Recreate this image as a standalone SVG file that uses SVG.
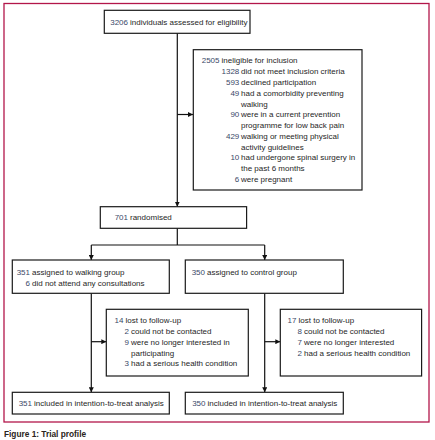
<svg xmlns="http://www.w3.org/2000/svg" width="435" height="440" viewBox="0 0 435 440">
<style>
  .box { fill: #ffffff; stroke: #1a1a1a; stroke-width: 1.2; }
  .frame { fill: none; stroke: #b3164a; stroke-width: 1.3; }
  .conn { fill: none; stroke: #111111; stroke-width: 1.2; }
  text { font-family: "Liberation Sans", Arial, sans-serif; font-size: 8px; fill: #262626; }
  .num { fill: #3a4868; text-anchor: end; }
  .cap { font-weight: bold; font-size: 8.3px; fill: #2a2420; }
</style>
<defs>
  <marker id="arr" viewBox="0 0 10 10" refX="10" refY="5" markerWidth="5" markerHeight="5" markerUnits="userSpaceOnUse" orient="auto">
    <path d="M0,0 L10,5 L0,10 Z" fill="#111111"/>
  </marker>
</defs>
<rect class="frame" x="4" y="3.5" width="425" height="418.5"/>

<g id="connectors">
  <line class="conn" x1="177.3" y1="33" x2="177.3" y2="206.7" marker-end="url(#arr)"/>
  <line class="conn" x1="177.3" y1="114.5" x2="193" y2="114.5" marker-end="url(#arr)"/>
  <line class="conn" x1="177.3" y1="228.3" x2="177.3" y2="245"/>
  <line class="conn" x1="91.3" y1="245" x2="264.7" y2="245"/>
  <line class="conn" x1="91.3" y1="245" x2="91.3" y2="260" marker-end="url(#arr)"/>
  <line class="conn" x1="264.7" y1="245" x2="264.7" y2="260" marker-end="url(#arr)"/>
  <line class="conn" x1="91.3" y1="293.3" x2="91.3" y2="392.3" marker-end="url(#arr)"/>
  <line class="conn" x1="91.3" y1="341.7" x2="106.3" y2="341.7" marker-end="url(#arr)"/>
  <line class="conn" x1="264.7" y1="293.3" x2="264.7" y2="392.3" marker-end="url(#arr)"/>
  <line class="conn" x1="264.7" y1="341.7" x2="280.3" y2="341.7" marker-end="url(#arr)"/>
</g>

<g id="assessed">
  <rect class="box" x="104.3" y="10.3" width="145.7" height="23"/>
  <text class="num" x="128" y="24.5">3206</text>
  <text x="130" y="24.5">individuals assessed for eligibility</text>
</g>

<g id="ineligible">
  <rect class="box" x="193.3" y="49.7" width="168.7" height="140.3"/>
  <text class="num" x="219.5" y="63">2505</text><text x="221.5" y="63">ineligible for inclusion</text>
  <text class="num" x="239.3" y="74">1328</text><text x="241" y="74">did not meet inclusion criteria</text>
  <text class="num" x="239.3" y="85">593</text><text x="241" y="85">declined participation</text>
  <text class="num" x="239.3" y="95.8">49</text><text x="241" y="95.8">had a comorbidity preventing</text>
  <text x="241" y="106.5">walking</text>
  <text class="num" x="239.3" y="117.3">90</text><text x="241" y="117.3">were in a current prevention</text>
  <text x="241" y="128">programme for low back pain</text>
  <text class="num" x="239.3" y="138.8">429</text><text x="241" y="138.8">walking or meeting physical</text>
  <text x="241" y="149.5">activity guidelines</text>
  <text class="num" x="239.3" y="160.3">10</text><text x="241" y="160.3">had undergone spinal surgery in</text>
  <text x="241" y="171">the past 6 months</text>
  <text class="num" x="239.3" y="181.5">6</text><text x="241" y="181.5">were pregnant</text>
</g>

<g id="randomised">
  <rect class="box" x="100.3" y="206.7" width="146.3" height="21.6"/>
  <text class="num" x="128" y="220">701</text><text x="130" y="220">randomised</text>
</g>

<g id="walking-group">
  <rect class="box" x="12.3" y="260" width="157" height="33.3"/>
  <text class="num" x="30" y="275">351</text><text x="32" y="275">assigned to walking group</text>
  <text class="num" x="30" y="286">6</text><text x="32" y="286">did not attend any consultations</text>
</g>

<g id="control-group">
  <rect class="box" x="185.3" y="260" width="158" height="33.3"/>
  <text class="num" x="205" y="275">350</text><text x="207" y="275">assigned to control group</text>
</g>

<g id="lost-walking">
  <rect class="box" x="106.3" y="309.3" width="142" height="66.7"/>
  <text class="num" x="123.5" y="323">14</text><text x="125.5" y="323">lost to follow-up</text>
  <text class="num" x="129" y="334">2</text><text x="131" y="334">could not be contacted</text>
  <text class="num" x="129" y="345">9</text><text x="131" y="345">were no longer interested in</text>
  <text x="131" y="355.5">participating</text>
  <text class="num" x="129" y="366">3</text><text x="131" y="366">had a serious health condition</text>
</g>

<g id="lost-control">
  <rect class="box" x="280.3" y="309.3" width="141.3" height="66.7"/>
  <text class="num" x="296.5" y="323">17</text><text x="298.5" y="323">lost to follow-up</text>
  <text class="num" x="302" y="334">8</text><text x="304" y="334">could not be contacted</text>
  <text class="num" x="302" y="345">7</text><text x="304" y="345">were no longer interested</text>
  <text class="num" x="302" y="355.5">2</text><text x="304" y="355.5">had a serious health condition</text>
</g>

<g id="itt-walking">
  <rect class="box" x="12.3" y="392.3" width="157" height="21.7"/>
  <text class="num" x="32" y="406">351</text><text x="34" y="406">included in intention-to-treat analysis</text>
</g>

<g id="itt-control">
  <rect class="box" x="185.3" y="392.3" width="158" height="21.7"/>
  <text class="num" x="205.5" y="406">350</text><text x="207.5" y="406">included in intention-to-treat analysis</text>
</g>

<text class="cap" x="4" y="437">Figure 1: Trial profile</text>
</svg>
